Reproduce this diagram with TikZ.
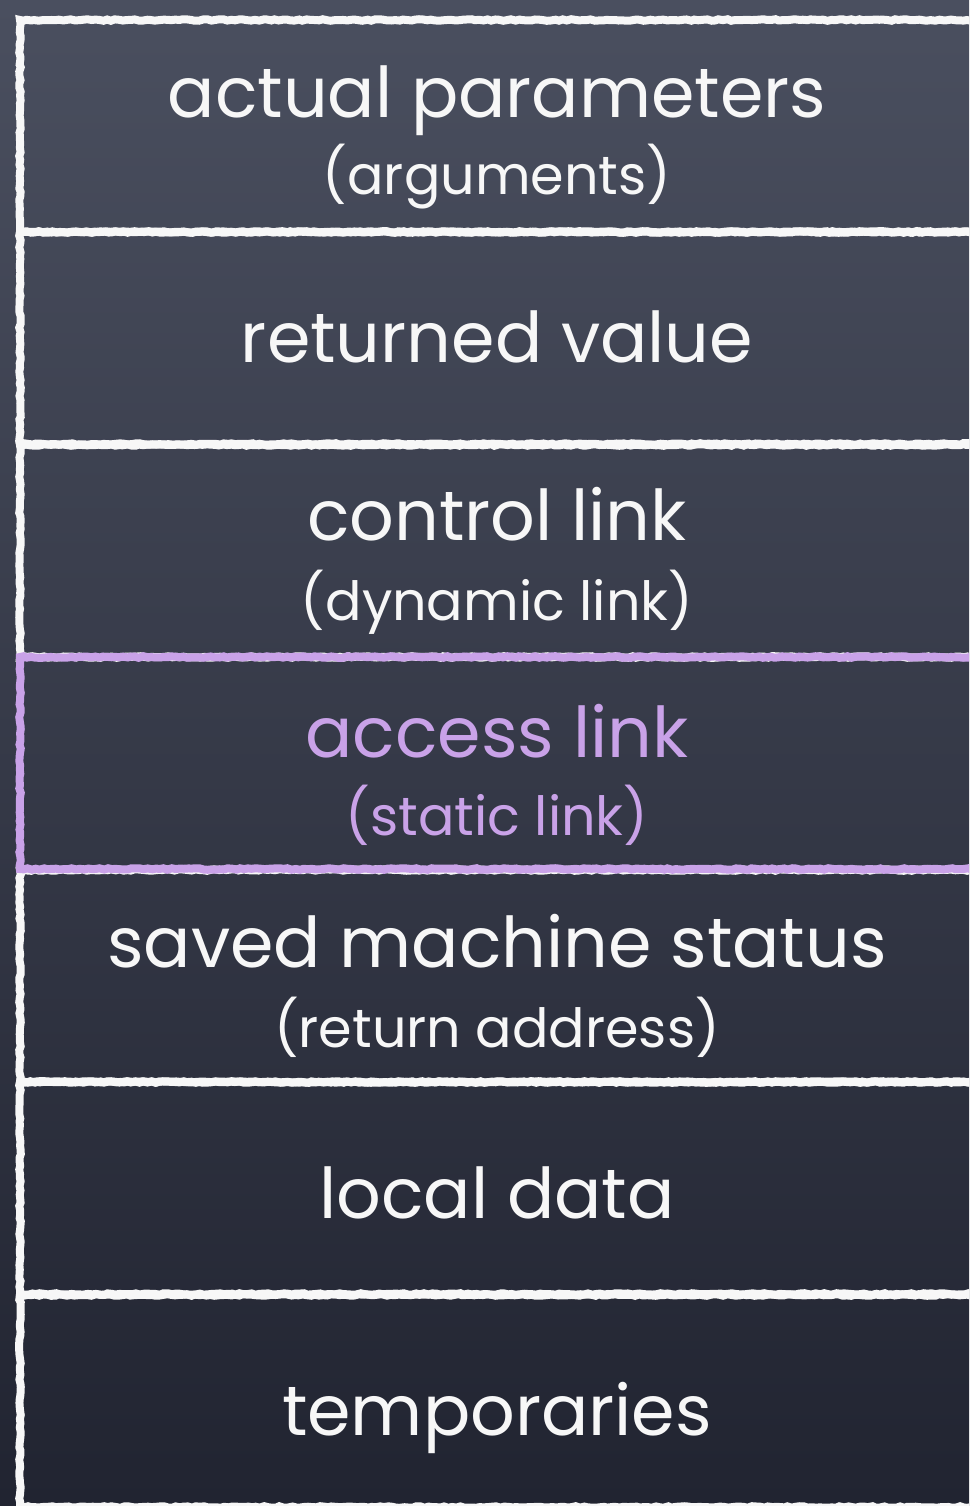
\documentclass[tikz,border=0pt]{standalone}
\usepackage{fontspec}
\setmainfont{Poppins}
\usetikzlibrary{decorations.pathmorphing}
\definecolor{boardtop}{HTML}{4A4F5F}
\definecolor{boardbot}{HTML}{212431}
\definecolor{chalk}{HTML}{F7F7F7}
\definecolor{lilac}{HTML}{C9A2E8}
\tikzset{
  rowbox/.style={rectangle, draw=#1, line width=8pt, anchor=north west, inner sep=0pt,
    minimum width=975pt, minimum height=212pt, decorate,
    decoration={random steps, segment length=4pt, amplitude=0.8pt}},
  rowbox/.default=chalk,
  maintxt/.style={anchor=base, text=#1, font=\fontsize{70}{74}\selectfont},
  maintxt/.default=chalk,
  subtxt/.style={anchor=base, text=#1, font=\fontsize{54}{58}\selectfont},
  subtxt/.default=chalk,
}
\begin{document}
\begin{tikzpicture}[x=1pt,y=-1pt]
  \clip (0,0) rectangle (969,1506);
  \shade[top color=boardtop, bottom color=boardbot] (0,0) rectangle (969,1506);
  % rows
  \node[rowbox] (r1) at (16,16) {};
  \node[rowbox] (r2) at (16,228) {};
  \node[rowbox] (r3) at (16,441) {};
  \node[rowbox] (r5) at (16,866) {};
  \node[rowbox] (r6) at (16,1078) {};
  \node[rowbox] (r7) at (16,1291) {};
  \node[rowbox=lilac] (r4) at (16,653) {};
  % labels
  \node[maintxt] (t1) at (497,118) {actual parameters};
  \node[subtxt] (s1) at (497,195) {(arguments)};
  \node[maintxt] (t2) at (497,362) {returned value};
  \node[maintxt] (t3) at (497,540) {control link};
  \node[subtxt] (s3) at (497,620) {(dynamic link)};
  \node[maintxt=lilac] (t4) at (497,757) {access link};
  \node[subtxt=lilac] (s4) at (497,835) {(static link)};
  \node[maintxt] (t5) at (497,967) {saved machine status};
  \node[subtxt] (s5) at (497,1047) {(return address)};
  \node[maintxt] (t6) at (497,1218) {local data};
  \node[maintxt] (t7) at (497,1435) {temporaries};
\end{tikzpicture}
\end{document}
